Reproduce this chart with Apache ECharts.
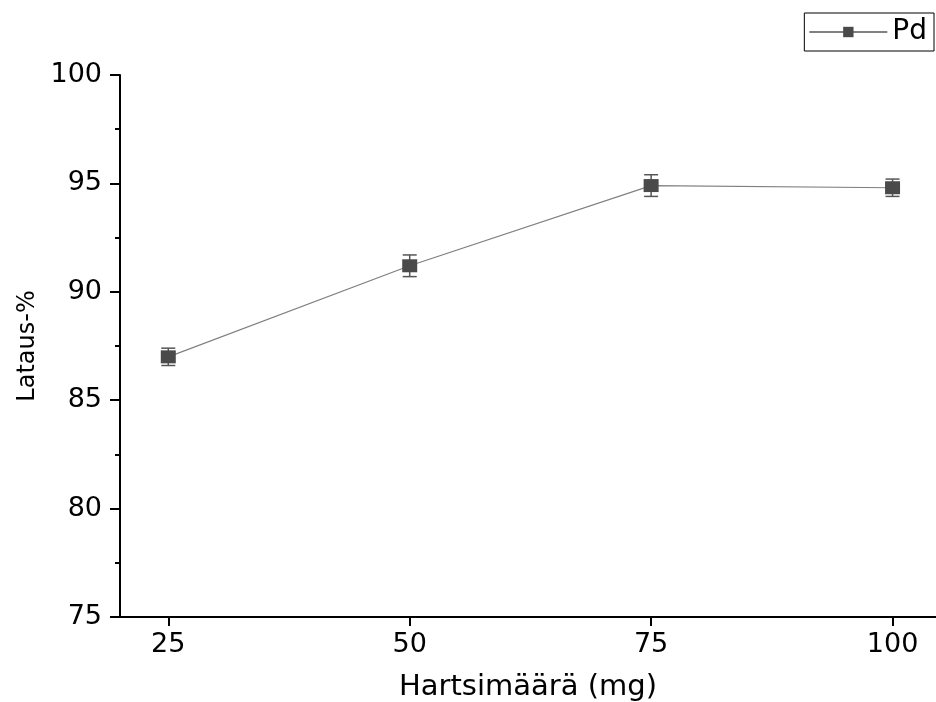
<!DOCTYPE html>
<html>
<head>
<meta charset="utf-8">
<script src="https://cdn.jsdelivr.net/npm/echarts@6/dist/echarts.min.js"></script>
<style>
  html, body { margin: 0; padding: 0; background: #fff; }
  #chart { width: 936px; height: 702px; }
</style>
</head>
<body>
<div id="chart"></div>
<script>
// Resin amount (mg) and Pd loading (%) with standard deviations
const resinAmounts = [25, 50, 75, 100];
const loadingPd = [87.0, 91.2, 94.9, 94.8];
const loadingErr = [0.4, 0.5, 0.5, 0.4];
const xTicks = [25, 50, 75, 100];

const FONT = '"DejaVu Sans", sans-serif';
const lineData = resinAmounts.map((x, i) => [x, loadingPd[i]]);
const errData = resinAmounts.map((x, i) => [x, loadingPd[i] - loadingErr[i], loadingPd[i] + loadingErr[i]]);

const chart = echarts.init(document.getElementById('chart'));
chart.setOption({
  animation: false,
  backgroundColor: '#fff',
  grid: { left: 120, right: 0, top: 75, bottom: 85, containLabel: false, outerBoundsMode: 'none' },
  legend: {
    data: ['Pd'],
    right: 2, top: 13,
    orient: 'horizontal',
    itemWidth: 78, itemHeight: 13,
    itemGap: 10,
    padding: [5, 7, 5, 4],
    borderColor: '#000', borderWidth: 1,
    textStyle: { fontFamily: FONT, fontSize: 28, color: '#000' }
  },
  xAxis: {
    type: 'value',
    min: 20, max: 104.5,
    name: 'Hartsimäärä (mg)',
    nameLocation: 'middle',
    nameGap: 56,
    nameTextStyle: { fontFamily: FONT, fontSize: 29, color: '#000' },
    axisLine: { show: true, onZero: false, lineStyle: { color: '#000', width: 2 } },
    axisTick: { show: true, inside: false, length: 9, lineStyle: { width: 2, color: '#000' }, customValues: xTicks },
    axisLabel: { fontFamily: FONT, fontSize: 27, color: '#000', margin: 14, customValues: xTicks },
    splitLine: { show: false }
  },
  yAxis: {
    type: 'value',
    min: 75, max: 100, interval: 5,
    name: 'Lataus-%',
    nameLocation: 'middle',
    nameGap: 80,
    nameTextStyle: { fontFamily: FONT, fontSize: 24, color: '#000' },
    axisLine: { show: true, onZero: false, lineStyle: { color: '#000', width: 2 } },
    axisTick: { show: true, inside: false, length: 10, lineStyle: { width: 2, color: '#000' } },
    minorTick: { show: true, splitNumber: 2, length: 5, lineStyle: { width: 2, color: '#000' } },
    axisLabel: { fontFamily: FONT, fontSize: 27, color: '#000', margin: 18 },
    splitLine: { show: false }
  },
  series: [
    {
      name: 'Pd',
      type: 'line',
      data: lineData,
      symbol: 'rect',
      symbolSize: [15, 13],
      itemStyle: { color: '#4a4a4a' },
      lineStyle: { color: '#808080', width: 1.2 },
      z: 3
    },
    {
      name: 'err',
      type: 'custom',
      data: errData,
      z: 2,
      renderItem: function (params, api) {
        const x = api.value(0);
        const lo = api.coord([x, api.value(1)]);
        const hi = api.coord([x, api.value(2)]);
        const hw = 7;
        const style = { stroke: '#555', lineWidth: 1.5 };
        return {
          type: 'group',
          children: [
            { type: 'line', shape: { x1: lo[0], y1: lo[1], x2: hi[0], y2: hi[1] }, style: style },
            { type: 'line', shape: { x1: lo[0] - hw, y1: lo[1], x2: lo[0] + hw, y2: lo[1] }, style: style },
            { type: 'line', shape: { x1: hi[0] - hw, y1: hi[1], x2: hi[0] + hw, y2: hi[1] }, style: style }
          ]
        };
      }
    }
  ]
});
</script>
</body>
</html>
